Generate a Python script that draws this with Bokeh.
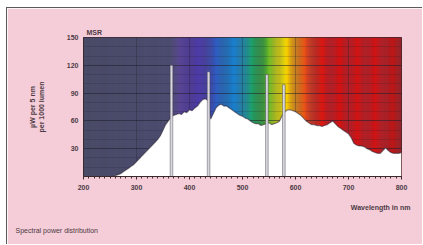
import numpy as np
from bokeh.plotting import figure
from bokeh.models import FixedTicker, Title, Range1d
from bokeh.embed import file_html
from bokeh.resources import INLINE

# ---- data ----
wavelength = list(range(200, 801, 5))
power = [0, 0, 0, 0, 0, 0, 0, 0, 0, 0,          # 200-245
         0, 0, 1, 2, 3, 5, 7, 9, 11, 13,       # 250-295
         16, 19, 22, 25, 28, 31, 34, 37, 40, 44,  # 300-345
         50, 56, 60, 64, 66, 67, 68, 67, 70, 69,  # 350-395
         72, 71, 74, 76, 80, 83, 84, 82, 62, 68,  # 400-445
         74, 77, 78, 76, 76, 74, 72, 70, 68, 66,  # 450-495
         65, 63, 62, 60, 58, 57, 57, 55, 56, 57,  # 500-545
         58, 56, 57, 58, 60, 66, 70, 72, 72, 71,  # 550-595
         70, 68, 66, 63, 60, 58, 56, 56, 55, 55,  # 600-645
         54, 55, 56, 58, 60, 57, 54, 52, 50, 48,  # 650-695
         46, 42, 36, 34, 33, 33, 32, 30, 29, 27,  # 700-745
         26, 25, 25, 28, 31, 28, 26, 25, 25, 25,  # 750-795
         26]                                     # 800
line_wl = [366, 436, 546, 578]
line_power = [120, 113, 110, 99]
x_ticks = [200, 300, 400, 500, 600, 700, 800]
y_ticks = [30, 60, 90, 120, 150]

# spectrum background colour stops (style)
stops_wl = [200, 362, 378, 400, 430, 450, 470, 490, 505, 520, 540, 555, 565, 578,
            590, 605, 620, 640, 660, 760, 800]
stops_col = ["#4a4b67", "#4d4d72", "#5a4a92", "#5238a2", "#4a3fae", "#2f5cc0",
             "#1a78cc", "#1a84cc", "#1a9aa8", "#1fa060", "#3aa832", "#8cc420",
             "#d8dc08", "#f6e400", "#f8b800", "#f08010", "#e84818", "#dc2010",
             "#d61212", "#d01414", "#b01818"]

def hex2rgb(h):
    return np.array([int(h[i:i + 2], 16) for i in (1, 3, 5)], dtype=float)

rgbs = np.array([hex2rgb(c) for c in stops_col])
band_l = np.arange(200, 800, 2)
band_mid = band_l + 1
band_cols = []
for w in band_mid:
    r = np.interp(w, stops_wl, rgbs[:, 0])
    g = np.interp(w, stops_wl, rgbs[:, 1])
    b = np.interp(w, stops_wl, rgbs[:, 2])
    band_cols.append("#%02x%02x%02x" % (int(r), int(g), int(b)))

TXT = "#4e3a44"
PINK = "#f4cdd8"
FONT = "Liberation Sans"

p = figure(width=416, height=237, output_backend="svg", toolbar_location=None,
           x_range=Range1d(200, 800), y_range=Range1d(0, 150),
           min_border_left=76, min_border_right=22, min_border_top=29,
           min_border_bottom=69, border_fill_color=PINK,
           background_fill_color="#4a4b67", outline_line_color="#3a2a30",
           outline_line_width=1)
p.styles = {"margin-left": "6px", "margin-top": "7px",
            "border-left": "1px solid #5a5a5a", "border-top": "1px solid #5a5a5a"}

p.quad(left=band_l, right=band_l + 2, bottom=0, top=150, fill_color=band_cols,
       line_color=None, level="image")

# grid
p.ygrid.ticker = FixedTicker(ticks=[30, 60, 90, 120], minor_ticks=list(range(10, 150, 10)))
p.ygrid.grid_line_color = "#1e1e2a"
p.ygrid.grid_line_alpha = 0.45
p.ygrid.minor_grid_line_color = "#1e1e2a"
p.ygrid.minor_grid_line_alpha = 0.18
p.xgrid.ticker = FixedTicker(ticks=[300, 400, 500, 600, 700])
p.xgrid.grid_line_color = "#1e1e2a"
p.xgrid.grid_line_alpha = 0.3

# spectrum
p.varea(x=wavelength, y1=0, y2=power, fill_color="white")
p.line(wavelength, power, line_color="#2a2030", line_alpha=0.55, line_width=1.2)
p.vbar(x=line_wl, width=5, top=line_power, bottom=0, fill_color="#d6d6dc",
       line_color="#3a3040", line_alpha=0.5, line_width=0.8)

# axes
for ax in (p.xaxis, p.yaxis):
    ax.axis_line_color = "#3a2a30"
    ax.major_tick_line_color = "#3a2a30"
    ax.minor_tick_line_color = "#3a2a30"
    ax.major_label_text_color = TXT
    ax.major_label_text_font = FONT
    ax.major_label_text_font_size = "7px"
    ax.major_label_text_font_style = "bold"
p.xaxis.ticker = FixedTicker(ticks=x_ticks, minor_ticks=list(range(200, 801, 10)))
p.xaxis.major_tick_out = 3
p.xaxis.major_tick_in = 0
p.xaxis.minor_tick_out = 2
p.xaxis.minor_tick_in = 0
p.xaxis.major_label_standoff = 5
p.yaxis.ticker = FixedTicker(ticks=y_ticks)
p.yaxis.major_tick_out = 0
p.yaxis.major_tick_in = 0
p.yaxis.minor_tick_out = 0
p.yaxis.major_label_standoff = 5
p.yaxis.axis_label = "µW per 5 nm\nper 1000 lumen"
p.yaxis.axis_label_text_font = FONT
p.yaxis.axis_label_text_font_size = "7px"
p.yaxis.axis_label_text_font_style = "bold"
p.yaxis.axis_label_text_color = TXT
p.yaxis.axis_label_standoff = 19

def title(text, place, align, offset, standoff, style="normal"):
    t = Title(text=text, align=align, offset=offset, text_font=FONT,
              text_font_size="7px", text_font_style=style, text_color=TXT,
              standoff=standoff)
    p.add_layout(t, place)

title("MSR", "above", "left", 3, 3, "bold")
title("Wavelength in nm", "below", "right", -9, 19, "bold")
title("Spectral power distribution", "below", "left", -68, 8)

open("out.html", "w").write(file_html(p, INLINE))
